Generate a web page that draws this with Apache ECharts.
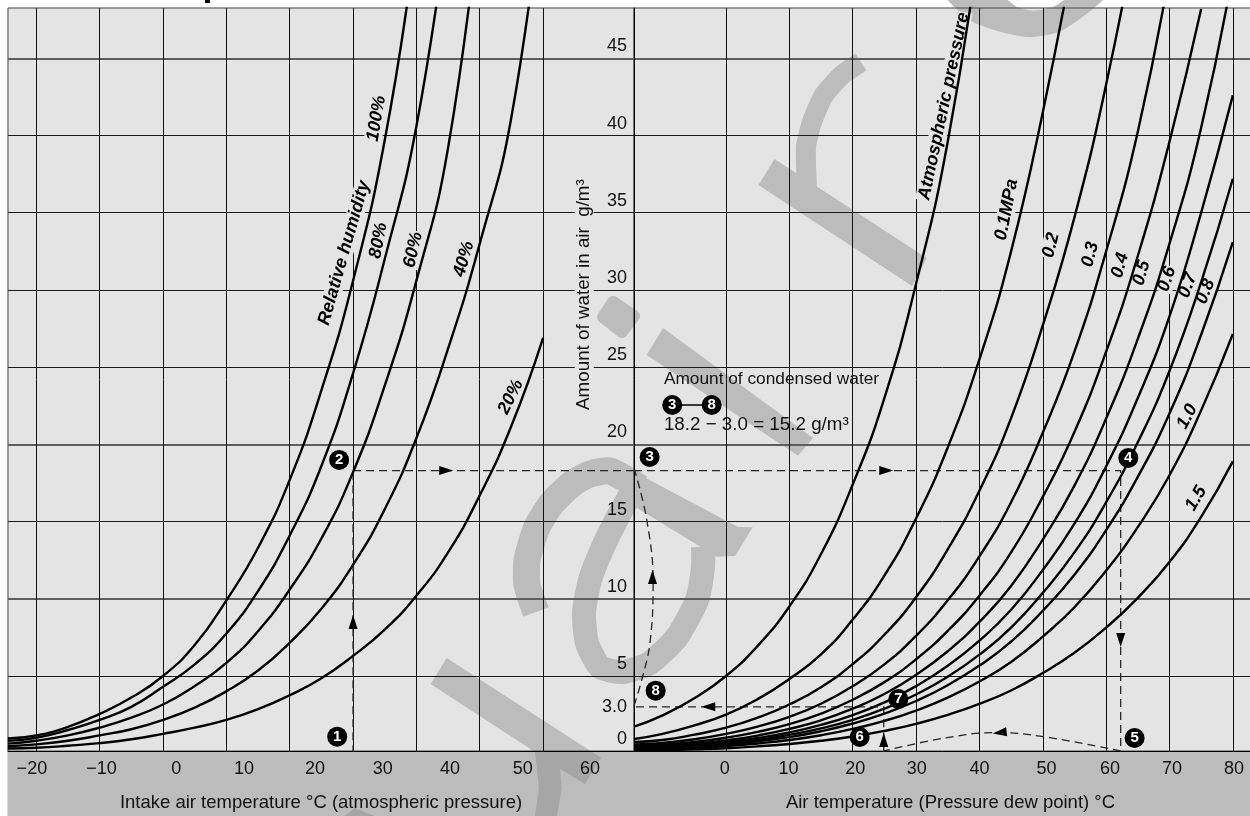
<!DOCTYPE html>
<html>
<head>
<meta charset="utf-8">
<style>
  html, body { margin: 0; padding: 0; background: #fff; }
  #chart { width: 1250px; height: 816px; }
</style>
<script src="https://cdn.jsdelivr.net/npm/echarts@6/dist/echarts.min.js"></script>
</head>
<body>
<div id="chart"></div>
<script>
// left panel: intake air temperature vs. relative humidity
const leftTemps = [-24.5, -20, -15, -10, -5, 0, 5, 10, 15, 20, 25, 30, 35, 40, 45, 50, 55, 60, 65];
const rh100 = [0.95, 1.15, 1.7, 2.55, 3.6, 5.0, 7.0, 9.9, 13.3, 17.7, 23.5, 30.6, 39.7, 52.5, 66];
const rh80 = [0.8, 1.0, 1.5, 2.15, 3.0, 4.3, 5.75, 7.75, 10.5, 14.1, 18.6, 24.6, 32, 40.6, 54];
const rh60 = [0.62, 0.8, 1.15, 1.65, 2.3, 3.15, 4.35, 5.85, 7.9, 10.6, 13.9, 18.2, 23.8, 30.6, 39.2, 54.5];
const rh40 = [0.45, 0.57, 0.8, 1.15, 1.55, 2.15, 2.95, 4.0, 5.35, 7.15, 9.35, 12.2, 15.8, 20.4, 26.2, 33, 41.2, 56];
const rh20 = [0.3, 0.35, 0.48, 0.65, 0.9, 1.25, 1.65, 2.15, 2.85, 3.75, 4.85, 6.3, 8.0, 10.2, 13.0, 16.7, 21.2, 26.9];

// right panel: air temperature vs. pressure
const rightTemps = [-14.5, -10, -5, 0, 5, 10, 15, 20, 25, 30, 35, 40, 45, 50, 55, 60, 65, 70, 75, 80];
const pAtm = [1.72, 2.45, 3.55, 5.0, 6.95, 9.5, 12.9, 17.4, 23, 30.4, 39.6, 52.5];
const p01 = [0.92, 1.25, 1.8, 2.5, 3.5, 4.8, 6.4, 8.65, 11.5, 15.2, 19.8, 25.5, 32.5, 41.5, 52];
const p02 = [0.72, 0.85, 1.2, 1.65, 2.3, 3.15, 4.27, 5.77, 7.67, 10.1, 13.2, 17, 21.7, 27.7, 34.7, 43.3, 53.7];
const p03 = [0.57, 0.66, 0.9, 1.25, 1.72, 2.35, 3.2, 4.33, 5.75, 7.6, 9.9, 12.75, 16.25, 20.75, 26, 32.5, 40.25, 50.5];
const p04 = [0.47, 0.54, 0.72, 1.0, 1.38, 1.88, 2.56, 3.46, 4.6, 6.08, 7.92, 10.2, 13, 16.6, 20.8, 26, 32.2, 39.6, 48.2];
const p05 = [0.4, 0.46, 0.6, 0.83, 1.14, 1.57, 2.13, 2.88, 3.83, 5.07, 6.6, 8.5, 10.83, 13.83, 17.33, 21.67, 26.83, 33, 40.5, 50.5];
const p06 = [0.35, 0.4, 0.52, 0.71, 0.98, 1.34, 1.83, 2.47, 3.29, 4.34, 5.66, 7.29, 9.29, 11.86, 14.86, 18.57, 23, 28.29, 35, 42.6];
const p07 = [0.3, 0.36, 0.46, 0.63, 0.86, 1.18, 1.6, 2.16, 2.88, 3.8, 4.95, 6.38, 8.13, 10.38, 13, 16.25, 20.13, 24.75, 30.5, 37.2];
const p08 = [0.27, 0.32, 0.41, 0.56, 0.77, 1.04, 1.42, 1.92, 2.56, 3.38, 4.4, 5.67, 7.22, 9.22, 11.56, 14.44, 17.89, 22, 27.1, 33.1];
const p10 = [0.22, 0.27, 0.35, 0.46, 0.63, 0.85, 1.16, 1.57, 2.09, 2.76, 3.6, 4.64, 5.91, 7.55, 9.45, 11.82, 14.64, 18, 22.2, 27.15];
const p15 = [0.16, 0.2, 0.25, 0.32, 0.44, 0.59, 0.8, 1.08, 1.44, 1.9, 2.48, 3.19, 4.06, 5.19, 6.5, 8.13, 10.06, 12.38, 15.3, 18.9];

// ticks. the printed labels don't sit on the grid lines in the left panel
const leftGridTemps = [-20, -10, 0, 10, 20, 30, 40, 50, 60];
const leftTickLabels = ['\u221220', '\u221210', '0', '10', '20', '30', '40', '50', '60'];
const leftTickSpots = [-20.7, -9.7, 2.1, 12.8, 24, 34.7, 45.3, 56.8, 67.4];
const rightGridTemps = [0, 10, 20, 30, 40, 50, 60, 70, 80];
const rightTickLabels = ['0', '10', '20', '30', '40', '50', '60', '70', '80'];
const rightTickSpots = [-0.2, 9.85, 20.4, 30.1, 40, 50.6, 60.6, 70.4, 80.2];
// the band starts just above the true zero, so the 0 label goes on the band edge
const waterMin = 0.14;
const waterMax = 48.26;
const waterLines = [5, 10, 15, 20, 25, 30, 35, 40, 45];
const heavyWaterLines = [10, 20, 45];
const waterTickSpots = [0.14, 3, 5, 10, 15, 20, 25, 30, 35, 40, 45];
const waterTickLabels = ['0', '3.0', '5', '10', '15', '20', '25', '30', '35', '40', '45'];

// dashed route 1 to 8
const routeUpT = [30, 30];
const routeUpV = [0, 18.3];
const routeAcrossLeftT = [30, 74.4];
const routeAcrossLeftV = [18.3, 18.3];
const routeAcrossRightT = [-14.52, 62.3, 62.3];
const routeAcrossRightV = [18.3, 18.3, 0];
const routeArcT = [62.3, 50.1, 42.6, 34.4, 24.9];
const routeArcV = [0.14, 1.07, 1.33, 0.97, 0.14];
const routeBackT = [24.9, 24.9, -14.52];
const routeBackV = [0, 3, 3];
const routeReturnT = [-14.52, -13.3, -12, -11.5, -12.5, -14.4];
const routeReturnV = [3.06, 4.74, 7.14, 11.02, 15.1, 18.3];

const leftArrowT = [30, 44.7];
const leftArrowV = [8.5, 18.3];
const leftArrowTurn = [0, -90];
const rightArrowT = [25.3, 62.3, -2.8, 24.9, 43.2, -11.6];
const rightArrowV = [18.3, 7.33, 3, 0.86, 1.33, 11.41];
const rightArrowTurn = [-90, 180, 90, 0, 97, 0];

// numbered points
const leftPointNames = ['1', '2'];
const leftPointT = [27.5, 27.8];
const leftPointV = [1.07, 18.99];
const rightPointNames = ['3', '4', '5', '6', '7', '8', '3', '8'];
const rightPointT = [-12.05, 63.5, 64.5, 21.1, 27.2, -11.1, -8.48, -2.26];
const rightPointV = [19.18, 19.12, 0.98, 1.05, 3.51, 4.05, 22.55, 22.55];
const linkT = [-8.48, -2.26];
const linkV = [22.55, 22.55];

// curve captions, rotated along the curves
const leftNoteTexts = ['Relative humidity', '100%', '80%', '60%', '40%', '20%'];
const leftNoteT = [28.6, 33.7, 34.03, 39.5, 47.5, 54.9];
const leftNoteV = [32.4, 41.1, 33.2, 32.6, 32, 23.07];
const leftNoteTurn = [74, 80, 79, 77, 74, 64];
const rightNoteTexts = ['Atmospheric pressure', '0.1MPa', '0.2', '0.3', '0.4', '0.5', '0.6', '0.7', '0.8', '1.0', '1.5'];
const rightNoteT = [34.4, 44.3, 51.3, 57.5, 62.2, 65.6, 69.6, 72.9, 75.7, 72.8, 74.2];
const rightNoteV = [41.9, 35.2, 32.9, 32.3, 31.6, 31.1, 30.7, 30.3, 29.9, 21.8, 16.5];
const rightNoteTurn = [78, 79, 76, 76, 74, 74, 72, 70, 68, 62, 60];

const FONT = '"Liberation Sans", Arial, sans-serif';
const INK = '#111';
const PLOT_BG = '#e4e4e4';
const BAND_BG = '#bcbcbc';
const MARK = '#bcbcbc';
const MARK_DARK = '#a6a6a6';

function pairs(xs, ys) {
    return ys.map((y, i) => [xs[i], y]);
}

function curve(name, grid, xs, ys) {
    return {
        name: name,
        type: 'line',
        xAxisIndex: grid,
        yAxisIndex: grid,
        data: pairs(xs, ys),
        smooth: 0.5,
        showSymbol: false,
        silent: true,
        z: 5,
        lineStyle: { color: '#000', width: 2.4 }
    };
}

function dashed(name, grid, xs, ys, smooth) {
    return {
        name: name,
        type: 'line',
        xAxisIndex: grid,
        yAxisIndex: grid,
        data: pairs(xs, ys),
        smooth: smooth,
        showSymbol: false,
        silent: true,
        z: 4,
        lineStyle: { color: '#262626', width: 1.3, type: [8, 5] }
    };
}

function arrows(name, grid, xs, ys, turns) {
    return {
        name: name,
        type: 'scatter',
        xAxisIndex: grid,
        yAxisIndex: grid,
        symbol: 'triangle',
        symbolSize: [9, 14],
        silent: true,
        z: 6,
        itemStyle: { color: '#000', opacity: 1 },
        data: ys.map((y, i) => ({ value: [xs[i], y], symbolRotate: turns[i] }))
    };
}

function points(name, grid, names, xs, ys) {
    return {
        name: name,
        type: 'scatter',
        xAxisIndex: grid,
        yAxisIndex: grid,
        symbol: 'circle',
        symbolSize: 20,
        silent: true,
        z: 7,
        itemStyle: { color: '#000', opacity: 1 },
        label: {
            show: true,
            position: 'inside',
            color: '#fff',
            fontFamily: FONT,
            fontSize: 15,
            fontWeight: 'bold',
            formatter: (p) => names[p.dataIndex]
        },
        data: pairs(xs, ys)
    };
}

function notes(name, grid, texts, xs, ys, turns) {
    return {
        name: name,
        type: 'scatter',
        xAxisIndex: grid,
        yAxisIndex: grid,
        symbolSize: 0,
        silent: true,
        z: 3,
        itemStyle: { opacity: 1 },
        data: ys.map((y, i) => ({
            value: [xs[i], y],
            label: {
                show: true,
                position: 'inside',
                rotate: turns[i],
                formatter: texts[i],
                color: '#000',
                fontFamily: FONT,
                fontSize: 18,
                fontStyle: 'italic',
                fontWeight: 'bold',
                backgroundColor: PLOT_BG,
                padding: [0, 1]
            }
        }))
    };
}

function plainNote(text, x, y, turn, align, size) {
    return {
        value: [x, y],
        label: {
            show: true,
            position: 'inside',
            rotate: turn,
            align: align,
            formatter: text,
            color: INK,
            fontFamily: FONT,
            fontSize: size,
            backgroundColor: turn ? PLOT_BG : 'transparent',
            padding: turn ? [0, 4] : 0
        }
    };
}

function xAxisFor(grid, min, max, gridTemps, spots, texts, caption, captionPad) {
    return {
        type: 'value',
        gridIndex: grid,
        min: min,
        max: max,
        axisLine: { show: true, onZero: false, lineStyle: { color: '#000', width: 1 } },
        axisTick: { show: false, customValues: gridTemps },
        splitLine: { show: true, lineStyle: { color: '#111', width: 1 } },
        axisLabel: {
            customValues: spots,
            margin: 9,
            color: INK,
            fontFamily: FONT,
            fontSize: 18,
            formatter: (v) => texts[spots.indexOf(v)]
        },
        name: caption,
        nameLocation: 'middle',
        nameGap: 42,
        nameTextStyle: { color: INK, fontFamily: FONT, fontSize: 18.5, padding: captionPad }
    };
}

function yAxisFor(grid) {
    return {
        type: 'value',
        gridIndex: grid,
        position: 'right',
        min: waterMin,
        max: waterMax,
        axisLine: { show: grid === 0, onZero: false, lineStyle: { color: '#000', width: 1 } },
        axisTick: { show: false, customValues: waterLines },
        splitLine: { show: true, lineStyle: { color: '#1a1a1a', width: 1 } },
        axisLabel: grid === 0 ? {
            inside: true,
            margin: 7,
            customValues: waterTickSpots,
            color: INK,
            fontFamily: FONT,
            fontSize: 18,
            formatter: (v) => {
                const text = waterTickLabels[waterTickSpots.indexOf(v)];
                return v === 3 ? text : '{up|' + text + '}';
            },
            rich: { up: { color: INK, fontFamily: FONT, fontSize: 18, padding: [0, 0, 24, 0] } }
        } : { show: false }
    };
}

// same grid again, only to draw the heavier horizontal rules
function heavyAxisFor(grid) {
    return {
        type: 'value',
        gridIndex: grid,
        min: waterMin,
        max: waterMax,
        axisLine: { show: false },
        axisLabel: { show: false },
        axisTick: { show: false, customValues: heavyWaterLines },
        splitLine: { show: true, lineStyle: { color: '#5e5e5e', width: 2 } }
    };
}

function watermark() {
    const stroke = (pts, w, smooth) => ({
        type: 'polyline',
        z: -9,
        silent: true,
        shape: { points: pts, smooth: smooth },
        style: { fill: 'none', stroke: MARK, lineWidth: w, lineJoin: 'round' }
    });
    const blob = (pts, color, z, smooth) => ({
        type: 'polygon',
        z: z,
        silent: true,
        shape: { points: pts, smooth: smooth || 0 },
        style: { fill: color }
    });
    return [
        { type: 'rect', z: -10, silent: true, shape: { x: 7.5, y: 7.5, width: 1243, height: 744 }, style: { fill: PLOT_BG } },
        { type: 'rect', z: -10, silent: true, shape: { x: 7.5, y: 751, width: 1243, height: 65 }, style: { fill: BAND_BG } },
        { type: 'rect', z: -10, silent: true, shape: { x: 205, y: 0, width: 5, height: 3 }, style: { fill: '#000' } },
        // top arc
        blob([[945, -6], [973, 22], [1027, 37], [1063, 30], [1108, -6], [1075, -6], [1053, 7], [1033, 10.7], [1017, 7], [998, -6]], MARK, -9, 0.25),
        // r
        blob([[774.5, 159], [758.5, 185], [912, 286], [926.7, 258]], MARK, -9),
        stroke([[807, 188], [806, 147], [812, 122], [824, 95], [842, 75], [861, 62]], 20, 0.2),
        // i
        {
            type: 'polygon', z: -9, silent: true,
            shape: { points: [[613, 302], [634, 316], [622, 332], [603, 317]] },
            style: { fill: MARK, stroke: MARK, lineWidth: 12, lineJoin: 'round' }
        },
        blob([[663, 328], [646.7, 355], [798, 455.7], [813, 438]], MARK, -9),
        // a
        stroke([[536, 612], [527, 585], [527, 560], [537, 527], [552, 503], [573, 483], [590, 474], [610, 471], [640, 488]], 27, 0.2),
        blob([[630, 473], [642, 476], [738, 527], [752.7, 527.3], [735, 556], [716.7, 556.7], [624, 500]], MARK, -9),
        stroke([[635, 487], [620, 513], [603, 547], [590, 580], [584, 613], [587, 643], [600, 667], [623, 672], [650, 663], [677, 637], [697, 600], [703, 567], [703, 547]], 24, 0.2),
        // k, runs on through the grey band
        blob([[446.7, 658], [430.7, 684], [533.4, 751], [590.6, 751]], MARK, -9),
        blob([[535, 751], [590.6, 751], [601, 757.7], [585, 784], [560, 769], [561.7, 788], [557, 816], [535, 816], [539, 788]], MARK_DARK, -9),
        blob([[343, 817], [355, 808], [377, 817]], MARK_DARK, -9)
    ];
}

const chart = echarts.init(document.getElementById('chart'));

chart.setOption({
    animation: false,
    backgroundColor: '#fff',
    textStyle: { fontFamily: FONT },
    graphic: { elements: watermark() },
    grid: [
        { left: 8, top: 8, width: 626, height: 743, outerBoundsMode: 'none', show: true, backgroundColor: 'transparent', borderColor: '#4a4a4a', borderWidth: 1 },
        { left: 634, top: 8, width: 617, height: 743, outerBoundsMode: 'none', show: true, backgroundColor: 'transparent', borderColor: '#4a4a4a', borderWidth: 1 }
    ],
    xAxis: [
        xAxisFor(0, -24.47, 74.35, leftGridTemps, leftTickSpots, leftTickLabels, 'Intake air temperature \u00b0C (atmospheric pressure)', 0),
        xAxisFor(1, -14.52, 82.87, rightGridTemps, rightTickSpots, rightTickLabels, 'Air temperature (Pressure dew point) \u00b0C', [0, 0, 0, 16])
    ],
    yAxis: [yAxisFor(0), yAxisFor(1), heavyAxisFor(0), heavyAxisFor(1)],
    series: [
        curve('100%', 0, leftTemps, rh100),
        curve('80%', 0, leftTemps, rh80),
        curve('60%', 0, leftTemps, rh60),
        curve('40%', 0, leftTemps, rh40),
        curve('20%', 0, leftTemps, rh20),
        curve('Atmospheric', 1, rightTemps, pAtm),
        curve('0.1', 1, rightTemps, p01),
        curve('0.2', 1, rightTemps, p02),
        curve('0.3', 1, rightTemps, p03),
        curve('0.4', 1, rightTemps, p04),
        curve('0.5', 1, rightTemps, p05),
        curve('0.6', 1, rightTemps, p06),
        curve('0.7', 1, rightTemps, p07),
        curve('0.8', 1, rightTemps, p08),
        curve('1.0', 1, rightTemps, p10),
        curve('1.5', 1, rightTemps, p15),
        dashed('route up', 0, routeUpT, routeUpV, false),
        dashed('route across left', 0, routeAcrossLeftT, routeAcrossLeftV, false),
        dashed('route across right', 1, routeAcrossRightT, routeAcrossRightV, false),
        dashed('route arc', 1, routeArcT, routeArcV, 0.4),
        dashed('route back', 1, routeBackT, routeBackV, false),
        dashed('route return', 1, routeReturnT, routeReturnV, 0.4),
        arrows('arrows left', 0, leftArrowT, leftArrowV, leftArrowTurn),
        arrows('arrows right', 1, rightArrowT, rightArrowV, rightArrowTurn),
        {
            name: 'link',
            type: 'line',
            xAxisIndex: 1,
            yAxisIndex: 1,
            data: pairs(linkT, linkV),
            showSymbol: false,
            silent: true,
            z: 6,
            lineStyle: { color: '#000', width: 1.5 }
        },
        points('points left', 0, leftPointNames, leftPointT, leftPointV),
        points('points right', 1, rightPointNames, rightPointT, rightPointV),
        notes('humidity notes', 0, leftNoteTexts, leftNoteT, leftNoteV, leftNoteTurn),
        notes('pressure notes', 1, rightNoteTexts, rightNoteT, rightNoteV, rightNoteTurn),
        {
            name: 'y title',
            type: 'scatter',
            xAxisIndex: 0,
            yAxisIndex: 0,
            symbolSize: 0,
            silent: true,
            z: 3,
            itemStyle: { opacity: 1 },
            data: [plainNote('Amount of water in air  g/m\u00b3', 66.5, 29.7, 90, 'center', 18.8)]
        },
        {
            name: 'condensed',
            type: 'scatter',
            xAxisIndex: 1,
            yAxisIndex: 1,
            symbolSize: 0,
            silent: true,
            z: 3,
            itemStyle: { opacity: 1 },
            data: [
                plainNote('Amount of condensed water', -9.8, 24.2, 0, 'left', 17.3),
                plainNote('18.2 \u2212 3.0 = 15.2 g/m\u00b3', -9.8, 21.25, 0, 'left', 18.8)
            ]
        }
    ]
});
</script>
</body>
</html>
